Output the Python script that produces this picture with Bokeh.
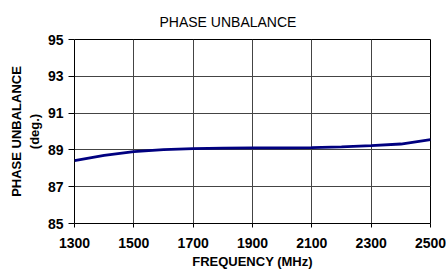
from bokeh.plotting import figure
from bokeh.models import Range1d, FixedTicker
from bokeh.embed import file_html
from bokeh.resources import INLINE

freq = [1300, 1400, 1500, 1600, 1700, 1800, 1900, 2000, 2100, 2200, 2300, 2400, 2500]
phase = [88.42, 88.70, 88.91, 89.01, 89.07, 89.10, 89.11, 89.11, 89.12, 89.16, 89.23, 89.32, 89.56]
x_ticks = [1300, 1500, 1700, 1900, 2100, 2300, 2500]
y_ticks = [85, 87, 89, 91, 93, 95]

FONT = "Liberation Sans"

p = figure(width=446, height=273, output_backend="svg", toolbar_location=None,
           x_range=Range1d(1300, 2500), y_range=Range1d(85, 95),
           min_border_left=74, min_border_right=16, min_border_top=39, min_border_bottom=50)

p.title.text = "PHASE UNBALANCE"
p.title.align = "left"
p.title.offset = 85
p.title.text_font = FONT
p.title.text_font_size = "14px"
p.title.text_font_style = "normal"
p.title.text_color = "#000000"
p.title.standoff = 20

p.line(freq, phase, line_color="#000080", line_width=2.8)

p.xaxis.ticker = FixedTicker(ticks=x_ticks)
p.yaxis.ticker = FixedTicker(ticks=y_ticks)
for ax in (p.xaxis[0], p.yaxis[0]):
    ax.major_label_text_font = FONT
    ax.major_label_text_font_size = "14px"
    ax.major_label_text_font_style = "bold"
    ax.major_label_text_color = "#000000"
    ax.axis_line_color = None
    ax.major_tick_line_color = "#000000"
    ax.major_tick_in = 0
    ax.minor_tick_line_color = None
    ax.axis_label_text_font = FONT
    ax.axis_label_text_font_size = "13px"
    ax.axis_label_text_font_style = "bold"
    ax.axis_label_text_color = "#000000"

p.xaxis.axis_label = "FREQUENCY (MHz)"
p.xaxis.major_tick_out = 4
p.xaxis.major_label_standoff = 10
p.xaxis.axis_label_standoff = 3
p.yaxis.major_tick_out = 6
p.yaxis.major_label_standoff = 5
p.yaxis.axis_label = "PHASE UNBALANCE\n(deg.)"
p.yaxis.axis_label_standoff = 3

p.grid.grid_line_color = "#444444"
p.grid.grid_line_width = 1
p.outline_line_color = "#000000"
p.outline_line_width = 1
p.background_fill_color = "white"
p.border_fill_color = "white"

open("out.html", "w").write(file_html(p, INLINE))
